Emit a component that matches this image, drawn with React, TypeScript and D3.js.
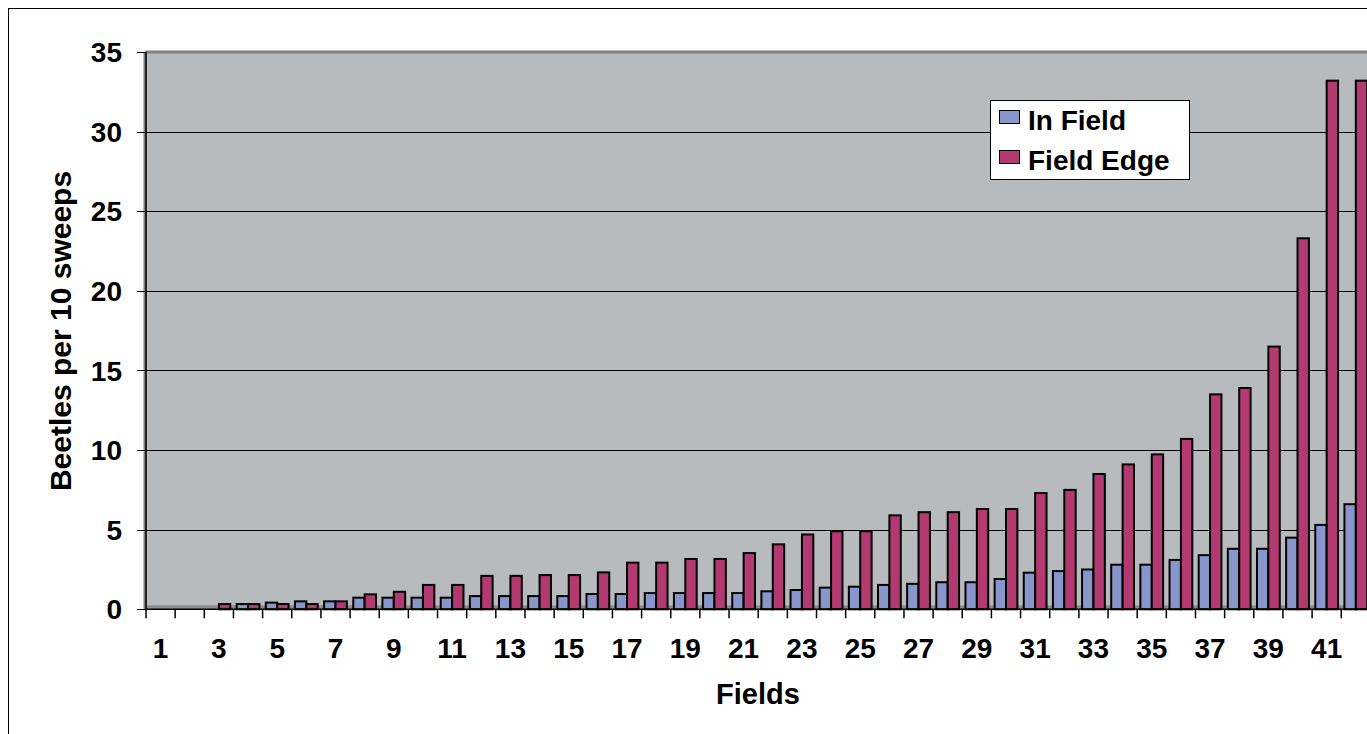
import * as d3 from 'd3';

// Fields 1..42
const fields = d3.range(1, 43).map(String);

const inField = [
  0, 0, 0, 0.33, 0.42, 0.5, 0.5, 0.73, 0.73, 0.73,
  0.73, 0.83, 0.83, 0.83, 0.83, 0.96, 0.96, 1.02, 1.02, 1.02,
  1.02, 1.13, 1.21, 1.36, 1.42, 1.53, 1.6, 1.7, 1.7, 1.9,
  2.3, 2.4, 2.5, 2.8, 2.8, 3.1, 3.4, 3.8, 3.8, 4.5,
  5.3, 6.6,
];

const fieldEdge = [
  0, 0, 0.33, 0.33, 0.33, 0.33, 0.5, 0.94, 1.1, 1.53,
  1.53, 2.1, 2.1, 2.15, 2.15, 2.32, 2.93, 2.93, 3.16, 3.16,
  3.53, 4.08, 4.7, 4.9, 4.9, 5.9, 6.1, 6.1, 6.3, 6.3,
  7.3, 7.5, 8.5, 9.1, 9.73, 10.7, 13.5, 13.9, 16.5, 23.3,
  33.2, 33.2,
];

const series = [
  { name: 'In Field', values: inField, color: '#8896CC' },
  { name: 'Field Edge', values: fieldEdge, color: '#B33A70' },
];

const yTicks = [0, 5, 10, 15, 20, 25, 30, 35];

const W = 1367;
const H = 734;
const plot = { left: 146, top: 52, right: 1370.4, bottom: 609.3 };
const font = 'Liberation Sans, Arial, sans-serif';

export default function App() {
  const x = d3.scaleBand().domain(fields).range([plot.left, plot.right]).paddingInner(0).paddingOuter(0);
  const inner = d3
    .scaleBand()
    .domain(series.map((s) => s.name))
    .range([0, x.bandwidth()])
    .paddingInner(0)
    .paddingOuter(0.28);
  const y = d3.scaleLinear().domain([0, 35]).range([plot.bottom, plot.top]);

  return (
    <div style={{ position: 'absolute', left: 0, top: 0, width: W, height: H, overflow: 'hidden', background: '#fff' }}>
      <svg width={W} height={H} style={{ display: 'block' }} fontFamily={font}>
        {/* outer chart frame */}
        <rect x={8.5} y={8.5} width={1400} height={800} fill="#fff" stroke="#000" strokeWidth={1} />

        {/* plot area */}
        <rect x={plot.left} y={plot.top} width={plot.right - plot.left} height={plot.bottom - plot.top} fill="#B7BBBE" />
        <rect x={plot.left} y={plot.bottom - 4} width={plot.right - plot.left} height={4} fill="#8C8C8C" />
        <line x1={plot.left - 1} x2={plot.right} y1={plot.top} y2={plot.top} stroke="#808080" strokeWidth={3} />
        <line x1={plot.left - 1} x2={plot.left - 1} y1={plot.top} y2={plot.bottom} stroke="#808080" strokeWidth={3} />

        {/* gridlines */}
        {yTicks.filter((t) => t > 0 && t < 35).map((t) => (
          <line key={t} x1={plot.left} x2={plot.right} y1={Math.round(y(t)) + 0.5} y2={Math.round(y(t)) + 0.5} stroke="#000" strokeWidth={1} />
        ))}

        {/* bars */}
        {series.map((s) =>
          s.values.map((v, i) =>
            v > 0 ? (
              <rect
                key={s.name + i}
                x={(x(fields[i]) ?? 0) + (inner(s.name) ?? 0)}
                y={y(v)}
                width={inner.bandwidth()}
                height={plot.bottom - y(v)}
                fill={s.color}
                stroke="#000"
                strokeWidth={2}
              />
            ) : null
          )
        )}

        {/* y axis */}
        <line x1={plot.left} x2={plot.left} y1={plot.top} y2={plot.bottom} stroke="#000" strokeWidth={1.5} />
        {yTicks.map((t) => (
          <g key={t}>
            <line x1={plot.left - 9} x2={plot.left} y1={Math.round(y(t)) + 0.5} y2={Math.round(y(t)) + 0.5} stroke="#000" strokeWidth={1} />
            <text x={122} y={y(t)} dy="0.36em" textAnchor="end" fontSize={28} fontWeight="bold">
              {t}
            </text>
          </g>
        ))}

        {/* x axis */}
        <line x1={plot.left} x2={plot.right} y1={plot.bottom} y2={plot.bottom} stroke="#000" strokeWidth={1.5} />
        {d3.range(0, fields.length + 1).map((i) => {
          const px = plot.left + i * x.step();
          return <line key={i} x1={px} x2={px} y1={plot.bottom} y2={plot.bottom + 9} stroke="#000" strokeWidth={1.5} />;
        })}
        {fields.map((f, i) =>
          i % 2 === 0 ? (
            <text key={f} x={(x(f) ?? 0) + x.bandwidth() / 2} y={658} textAnchor="middle" fontSize={28} fontWeight="bold">
              {f}
            </text>
          ) : null
        )}

        {/* axis titles */}
        <text x={758} y={704} textAnchor="middle" fontSize={29} fontWeight="bold">
          Fields
        </text>
        <text transform="translate(71,331) rotate(-90)" textAnchor="middle" fontSize={30} fontWeight="bold">
          Beetles per 10 sweeps
        </text>

        {/* legend */}
        <rect x={990.5} y={100.5} width={199} height={79} fill="#fff" stroke="#000" strokeWidth={1} />
        {series.map((s, i) => (
          <g key={s.name} transform={`translate(999,${110 + i * 40})`}>
            <rect x={0.5} y={0.5} width={20} height={13} fill={s.color} stroke="#000" strokeWidth={1} />
            <text x={29} y={20} fontSize={28} fontWeight="bold">
              {s.name}
            </text>
          </g>
        ))}
      </svg>
    </div>
  );
}
